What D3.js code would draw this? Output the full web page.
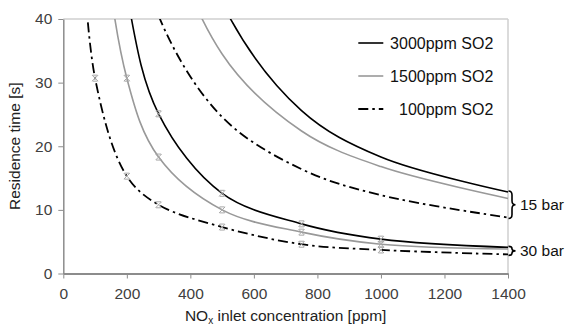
<!DOCTYPE html>
<html>
<head>
<meta charset="utf-8">
<script src="https://cdn.jsdelivr.net/npm/d3@7"></script>
<style>
  body { margin: 0; background: #fff; }
  svg { display: block; font-family: "Liberation Sans", Arial, sans-serif; }
  .axis text { fill: #404040; font-size: 15.5px; }
  .axis path, .axis line { stroke: #8c8c8c; }
</style>
</head>
<body>
<div id="chart"></div>
<script>
// NOx inlet concentration (ppm); first points sit above the 40 s axis limit and get clipped
const nox = [50, 100, 200, 300, 500, 750, 1000, 1400];

// residence time [s] at 15 bar
const so2_3000_15bar = [600, 300, 150, 75, 42.5, 25.6, 18.3, 12.8];
const so2_1500_15bar = [450, 220, 110, 60, 34.5, 22.4, 16.8, 11.8];
const so2_100_15bar = [220, 120, 62, 40.5, 24.6, 16.4, 12.3, 8.8];

// residence time [s] at 30 bar
const so2_3000_30bar = [180, 90, 44, 25.1, 12.6, 7.8, 5.4, 4.1];
const so2_1500_30bar = [130, 68, 30.7, 18.3, 10.0, 6.5, 4.6, 3.85];
const so2_100_30bar = [62, 30.7, 15.3, 10.8, 7.3, 4.6, 3.7, 3.0];

const legendLabels = ["3000ppm SO2", "1500ppm SO2", "100ppm SO2"];
const pressureLabels = ["15 bar", "30 bar"];
const xTicks = [0, 200, 400, 600, 800, 1000, 1200, 1400];
const yTicks = [0, 10, 20, 30, 40];

const W = 573, H = 327;
const margin = { top: 19, right: 65, bottom: 53.5, left: 63.3 };
const width = W - margin.left - margin.right;
const height = H - margin.top - margin.bottom;

const styles = [
  { stroke: "#000", width: 1.6, dash: null },
  { stroke: "#999", width: 1.6, dash: null },
  { stroke: "#000", width: 1.8, dash: "10,4,2.5,4" }
];

const svg = d3.select("#chart").append("svg")
  .attr("width", W).attr("height", H);

const g = svg.append("g")
  .attr("transform", "translate(" + margin.left + "," + margin.top + ")");

const x = d3.scaleLinear().domain([0, 1400]).range([0, width]);
const y = d3.scaleLinear().domain([0, 40]).range([height, 0]);

g.append("defs").append("clipPath").attr("id", "plotclip")
  .append("rect").attr("x", 0).attr("y", 0).attr("width", width + 2).attr("height", height);

// light frame on top and right
g.append("line").attr("x1", 0).attr("x2", width).attr("y1", 0).attr("y2", 0)
  .attr("stroke", "#cfcfcf").attr("stroke-width", 1.5);
g.append("line").attr("x1", width).attr("x2", width).attr("y1", 0).attr("y2", height)
  .attr("stroke", "#cfcfcf").attr("stroke-width", 1.5);

g.append("g").attr("class", "axis")
  .attr("transform", "translate(0," + height + ")")
  .call(d3.axisBottom(x).tickValues(xTicks).tickFormat(d3.format("d"))
    .tickSize(5).tickSizeOuter(0).tickPadding(9))
  .call(a => a.select(".domain").attr("stroke-width", 2));

g.append("g").attr("class", "axis")
  .call(d3.axisLeft(y).tickValues(yTicks).tickSize(5).tickSizeOuter(0).tickPadding(6))
  .call(a => a.select(".domain").attr("stroke-width", 1.5));

const line = d3.line()
  .x((d, i) => x(nox[i]))
  .y(d => y(d))
  .curve(d3.curveCatmullRom.alpha(0.5));

const plot = g.append("g").attr("clip-path", "url(#plotclip)");

const groups15 = [so2_3000_15bar, so2_1500_15bar, so2_100_15bar];
const groups30 = [so2_3000_30bar, so2_1500_30bar, so2_100_30bar];

[groups15, groups30].forEach(grp => {
  grp.forEach((vals, k) => {
    plot.append("path")
      .datum(vals)
      .attr("fill", "none")
      .attr("stroke", styles[k].stroke)
      .attr("stroke-width", styles[k].width)
      .attr("stroke-dasharray", styles[k].dash)
      .attr("d", line);
  });
});

// x markers on the 30 bar series
groups30.forEach(vals => {
  plot.selectAll(null)
    .data(vals.map((v, i) => ({ x: nox[i], v: v })).filter(d => d.v <= 40 && d.x < 1400))
    .enter()
    .append("path")
    .attr("transform", d => "translate(" + x(d.x) + "," + y(d.v) + ")")
    .attr("d", "M-3,-3L3,3M3,-3L-3,3M-2.5,-3L2.5,-3M-2.5,3L2.5,3")
    .attr("fill", "none")
    .attr("stroke", "#a8a8a8")
    .attr("stroke-width", 1);
});

// legend
legendLabels.forEach((lab, k) => {
  const ly = 24 + k * 33;
  g.append("line")
    .attr("x1", 295).attr("x2", 320).attr("y1", ly).attr("y2", ly)
    .attr("stroke", styles[k].stroke)
    .attr("stroke-width", styles[k].width)
    .attr("stroke-dasharray", styles[k].dash);
  g.append("text")
    .attr("x", 430).attr("y", ly)
    .attr("dy", "0.35em")
    .attr("text-anchor", "end")
    .style("font-size", "16px")
    .attr("fill", "#111")
    .text(lab);
});

// braces grouping the line ends per pressure
function brace(x0, y1, y2, w) {
  const mid = (y1 + y2) / 2;
  const q = Math.min(4, (y2 - y1) / 4);
  const xm = x0 + w / 2;
  return "M" + x0 + "," + y1 + "Q" + xm + "," + y1 + " " + xm + "," + (y1 + q) +
    "L" + xm + "," + (mid - q) + "Q" + xm + "," + mid + " " + (x0 + w) + "," + mid +
    "Q" + xm + "," + mid + " " + xm + "," + (mid + q) +
    "L" + xm + "," + (y2 - q) + "Q" + xm + "," + y2 + " " + x0 + "," + y2;
}

const last = nox.length - 1;
[groups15, groups30].forEach((grp, k) => {
  const ends = grp.map(v => y(v[last]));
  const y1 = d3.min(ends) - 1, y2 = d3.max(ends) + 1;
  g.append("path")
    .attr("d", brace(width + 0.5, y1, y2, 7))
    .attr("fill", "none")
    .attr("stroke", "#000")
    .attr("stroke-width", 1.6);
  g.append("text")
    .attr("x", width + 12).attr("y", (y1 + y2) / 2)
    .attr("dy", "0.35em")
    .style("font-size", "15.5px")
    .attr("fill", "#111")
    .text(pressureLabels[k]);
});

// axis titles
const xt = svg.append("text")
  .attr("x", margin.left + width / 2).attr("y", 321)
  .attr("text-anchor", "middle")
  .style("font-size", "15.5px")
  .attr("fill", "#222");
xt.append("tspan").text("NO");
xt.append("tspan").attr("dy", 3).style("font-size", "10px").text("x");
xt.append("tspan").attr("dy", -3).text(" inlet concentration [ppm]");

svg.append("text")
  .attr("transform", "translate(20," + (margin.top + height / 2) + ") rotate(-90)")
  .attr("text-anchor", "middle")
  .style("font-size", "15.5px")
  .attr("fill", "#222")
  .text("Residence time [s]");
</script>
</body>
</html>
